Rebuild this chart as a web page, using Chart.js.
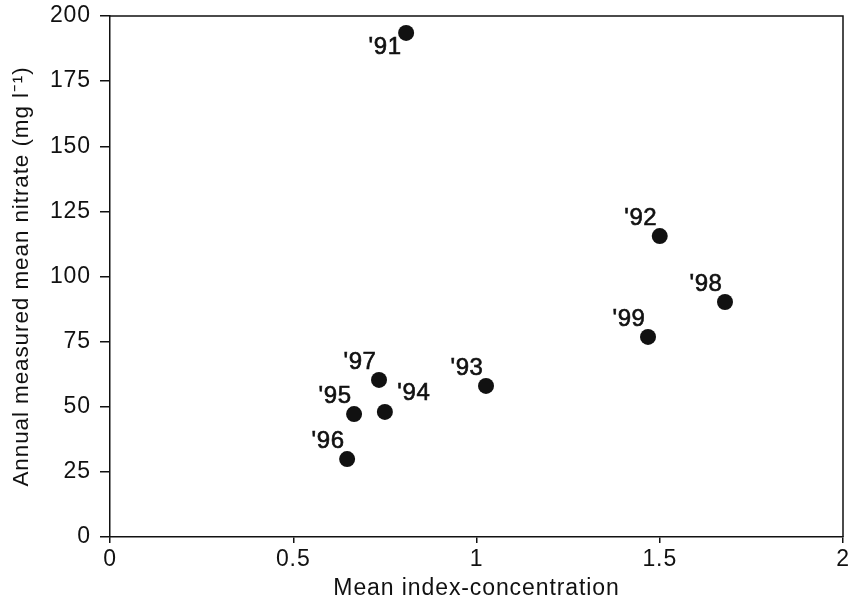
<!DOCTYPE html>
<html>
<head>
<meta charset="utf-8">
<script src="https://cdn.jsdelivr.net/npm/chart.js@4.4.1/dist/chart.umd.min.js"></script>
<style>
html,body{margin:0;padding:0;background:#fff;}
#wrap{width:851px;height:603px;}
</style>
</head>
<body>
<div id="wrap"><canvas id="c" width="851" height="603"></canvas></div>
<script>
// ---- data ----
const yearLabels = ["'91", "'92", "'93", "'94", "'95", "'96", "'97", "'98", "'99"];
const indexConcentration = [0.808, 1.50, 1.026, 0.750, 0.666, 0.647, 0.734, 1.678, 1.468];
const measuredNitrate = [193.5, 115.5, 58.0, 48.0, 47.2, 29.9, 60.3, 90.2, 76.8];
const xTickValues = [0, 0.5, 1, 1.5, 2];
const xTickLabels = ["0", "0.5", "1", "1.5", "2"];
const yTickValues = [0, 25, 50, 75, 100, 125, 150, 175, 200];

const FONT = "'Liberation Sans', Arial, Helvetica, sans-serif";
const INK = '#111';

const points = indexConcentration.map((x, i) => ({ x: x, y: measuredNitrate[i], label: yearLabels[i] }));

const spacingPlugin = {
  id: 'spacing',
  beforeUpdate(chart) { chart.ctx.letterSpacing = '0.9px'; },
  beforeDraw(chart) { chart.ctx.letterSpacing = '0.9px'; }
};

const framePlugin = {
  id: 'frame',
  afterDraw(chart) {
    const { ctx, chartArea: a } = chart;
    ctx.save();
    ctx.strokeStyle = INK;
    ctx.lineWidth = 1.5;
    ctx.beginPath();
    ctx.moveTo(a.left, a.top);
    ctx.lineTo(a.right, a.top);
    ctx.lineTo(a.right, a.bottom);
    ctx.stroke();
    ctx.restore();
  }
};

const labelPlugin = {
  id: 'pointLabels',
  afterDatasetsDraw(chart) {
    const { ctx } = chart;
    const meta = chart.getDatasetMeta(0);
    const side = { "'94": [29, -19], "'91": [-21, 14] };
    ctx.save();
    ctx.letterSpacing = '0.6px';
    ctx.font = '24px ' + FONT;
    ctx.fillStyle = INK;
    ctx.strokeStyle = INK;
    ctx.lineWidth = 0.6;
    ctx.textAlign = 'center';
    ctx.textBaseline = 'middle';
    meta.data.forEach((el, i) => {
      const lab = chart.data.datasets[0].data[i].label;
      const off = side[lab] || [-19, -18];
      ctx.fillText(lab, el.x + off[0], el.y + off[1]);
      ctx.strokeText(lab, el.x + off[0], el.y + off[1]);
    });
    ctx.restore();
  }
};

new Chart(document.getElementById('c'), {
  type: 'scatter',
  data: {
    datasets: [{
      data: points,
      backgroundColor: INK,
      borderColor: INK,
      pointRadius: 8,
      pointHoverRadius: 8,
      borderWidth: 0
    }]
  },
  options: {
    responsive: false,
    animation: false,
    events: [],
    layout: { padding: { top: 16, right: 8, left: 0, bottom: 0 } },
    plugins: { legend: { display: false }, tooltip: { enabled: false } },
    scales: {
      x: {
        type: 'linear',
        min: 0, max: 2,
        afterFit(s) { s.height = 66; s.paddingLeft = 0; s.paddingRight = 0; },
        afterBuildTicks(s) { s.ticks = xTickValues.map(v => ({ value: v })); },
        ticks: {
          color: INK,
          font: { family: FONT, size: 23 },
          padding: 3,
          maxRotation: 0,
          callback: (v) => { const k = xTickValues.indexOf(v); return k >= 0 ? xTickLabels[k] : ''; }
        },
        grid: { drawOnChartArea: false, drawTicks: true, tickLength: 6, color: INK, lineWidth: 1.5 },
        border: { display: true, color: INK, width: 1.5 },
        title: {
          display: true,
          text: 'Mean index-concentration',
          color: INK,
          font: { family: FONT, size: 23 },
          padding: { top: 0, bottom: 1 }
        }
      },
      y: {
        type: 'linear',
        min: 0, max: 200,
        afterFit(s) { s.width = 110; s.paddingTop = 0; s.paddingBottom = 0; },
        afterBuildTicks(s) { s.ticks = yTickValues.map(v => ({ value: v })); },
        ticks: {
          color: INK,
          font: { family: FONT, size: 23 },
          padding: 9
        },
        grid: { drawOnChartArea: false, drawTicks: true, tickLength: 10, color: INK, lineWidth: 1.5 },
        border: { display: true, color: INK, width: 1.5 },
        title: {
          display: true,
          text: 'Annual measured mean nitrate (mg l\u207B\u00B9)',
          color: INK,
          font: { family: FONT, size: 22.5 },
          padding: { top: 8, bottom: 0 }
        }
      }
    }
  },
  plugins: [spacingPlugin, framePlugin, labelPlugin]
});
</script>
</body>
</html>
